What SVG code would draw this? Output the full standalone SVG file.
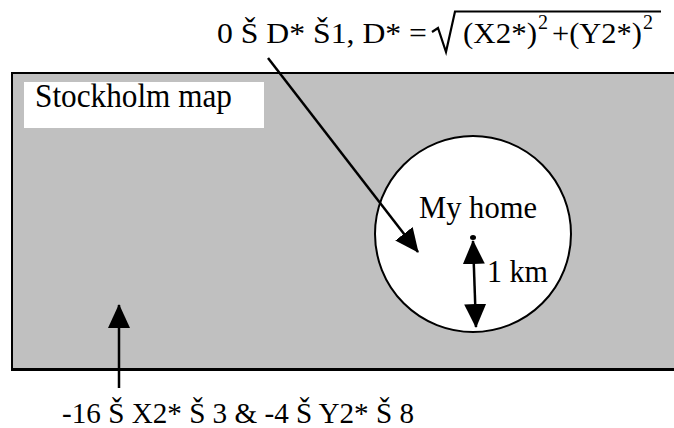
<svg xmlns="http://www.w3.org/2000/svg" width="674" height="428" viewBox="0 0 674 428">
<defs>
<style>
.t{font-family:'Liberation Serif','Times New Roman',Times,serif;fill:#000}
.ln{stroke:#000;stroke-width:2.5;fill:none}
</style>
<marker id="ah" viewBox="0 0 24 22" refX="23" refY="11" markerWidth="24" markerHeight="22" markerUnits="userSpaceOnUse" orient="auto-start-reverse">
<path d="M0,0 L24,11 L0,22 Z" fill="#000"/>
</marker>
</defs>
<g id="map">
<rect x="12" y="73" width="680" height="296" fill="#c0c0c0" stroke="#000" stroke-width="2"/>
<line x1="11" y1="370" x2="674" y2="370" stroke="#000" stroke-width="2"/>
<rect x="24" y="82" width="240" height="46" fill="#fff"/>
<text class="t" font-family="Liberation Serif" x="35" y="107" font-size="33" textLength="197" lengthAdjust="spacingAndGlyphs">Stockholm map</text>
</g>
<g id="home">
<circle cx="473" cy="234" r="98" fill="#fff" stroke="#000" stroke-width="2"/>
<text class="t" font-family="Liberation Serif" x="419" y="218" font-size="32" textLength="118" lengthAdjust="spacingAndGlyphs">My home</text>
<ellipse cx="473" cy="237.5" rx="3" ry="2.5" fill="#000"/>
<text class="t" font-family="Liberation Serif" x="487" y="282" font-size="32" textLength="61" lengthAdjust="spacingAndGlyphs">1 km</text>
</g>
<g id="formula-top">
<text class="t" font-family="Liberation Serif" y="43" font-size="29"><tspan x="217" textLength="210" lengthAdjust="spacingAndGlyphs">0 Š D* Š1, D* =</tspan></text>
<path d="M432,32 L438,28 L446,52 L455,11.5 L661,11.5" fill="none" stroke="#000" stroke-width="2.2" stroke-linejoin="miter"/>
<text class="t" font-family="Liberation Serif" y="43" font-size="29"><tspan x="463" textLength="74" lengthAdjust="spacingAndGlyphs">(X2*)</tspan></text>
<text class="t" font-family="Liberation Serif" x="538" y="29" font-size="20">2</text>
<text class="t" font-family="Liberation Serif" y="43" font-size="29"><tspan x="552" textLength="90" lengthAdjust="spacingAndGlyphs">+(Y2*)</tspan></text>
<text class="t" font-family="Liberation Serif" x="643" y="29" font-size="20">2</text>
</g>
<g id="formula-bottom">
<text class="t" font-family="Liberation Serif" x="62" y="423" font-size="30" textLength="352" lengthAdjust="spacingAndGlyphs">-16 Š X2* Š 3 &amp; -4 Š Y2* Š 8</text>
</g>
<g id="connectors">
<line class="ln" x1="268" y1="58" x2="418" y2="252" marker-end="url(#ah)"/>
<line class="ln" x1="119" y1="388" x2="119" y2="305" marker-end="url(#ah)"/>
<line class="ln" x1="473" y1="241" x2="476" y2="327" marker-start="url(#ah)" marker-end="url(#ah)"/>
</g>
</svg>
